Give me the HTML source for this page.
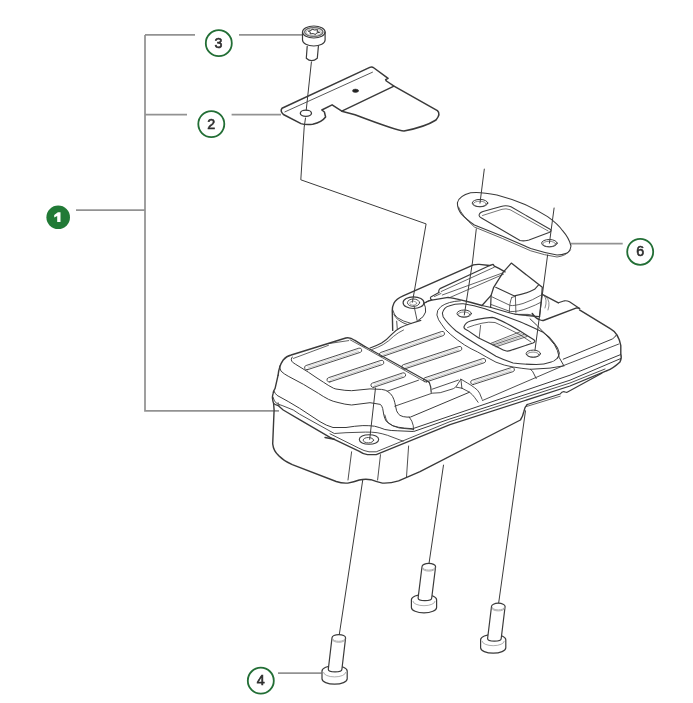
<!DOCTYPE html>
<html><head><meta charset="utf-8">
<style>
html,body{margin:0;padding:0;background:#fff;}
body{width:693px;height:703px;overflow:hidden;}
svg{display:block;}
text{font-family:"Liberation Sans",sans-serif;-webkit-font-smoothing:antialiased;}
#callouts{will-change:transform;}
</style></head>
<body>
<svg width="693" height="703" viewBox="0 0 693 703">
<g id="leaders" fill="none" stroke="#929292" stroke-width="1.75">
<path d="M145 34.9H195M145 34.9V410.8H279M145 114.7H187M231.6 114.7H281M76 210.1H145M239 34.9H302.5"/>
<path d="M571 243.5H622.7M278 673.2H321.5"/>
</g>
<g id="callouts">
<circle cx="58.2" cy="217.3" r="11.8" fill="#217a36"/>
<path fill="#fff" d="M54.2 214.9L57.9 212.3H60.5V222H57.2V216L54.2 217.6Z"/>
<g fill="none" stroke="#226e35" stroke-width="1.8">
<circle cx="218.8" cy="43.2" r="13"/>
<circle cx="211.3" cy="124.1" r="13"/>
<circle cx="640.2" cy="251.8" r="13"/>
<circle cx="260.8" cy="680.7" r="13"/>
</g>
<g fill="#2e2e2e" font-size="14.3" text-anchor="middle" stroke="#2e2e2e" stroke-width="0.6">
<text x="218.6" y="47.9">3</text>
<text x="211.3" y="128.8">2</text>
<text x="640.2" y="255.8">6</text>
<text x="260.8" y="685.4">4</text>
</g>
</g>
<g id="drawing" fill="none" stroke="#3a3a3a" stroke-width="1.2" stroke-linejoin="round" stroke-linecap="round">
<!-- screw 3 -->
<g id="screw3">
<ellipse cx="313.8" cy="32" rx="11.3" ry="6"/>
<path d="M302.5 32V40A11.3 6 0 0 0 325.1 40V32"/>
<ellipse cx="313.8" cy="32" rx="9.2" ry="4.4" stroke="#666" stroke-width="1.3"/><ellipse cx="313.8" cy="32.3" rx="7.6" ry="3.4" stroke="#aaa" stroke-width="0.8"/>
<path d="M319.3 32.4L316.5 33.0L315.6 34.5L313.1 33.6L310.1 33.9L310.4 32.4L308.3 31.2L311.1 30.6L312.0 29.1L314.5 30.0L317.5 29.7L317.2 31.2Z" stroke-width="1" stroke="#333" fill="#fff"/>
<path d="M307.2 46.3L306.3 58.2Q311.6 63 317.3 58.2L318.4 46.3"/>
</g>
<g id="centerlines" stroke-width="1">
<path d="M311.4 62L306.2 110.3M305.5 118L304.2 127.1L300.8 179.8L426.1 223.9L412.4 302.2"/>
<path d="M484.3 169.1L480 203.1M476.3 228.8L472.5 262L464.3 315"/>
<path d="M554.1 208L549.4 243.2M547.6 255L535 350"/>
<path d="M375.5 388L369.7 439.3M362.8 479.7L339.3 634.5"/>
<path d="M443.5 465.1L429 563.5M525.5 410.8L498.6 603.5"/>
</g>
<!-- bracket 2 -->
<g id="bracket">
<path stroke-width="1.5" d="M282 108.2L369.8 67.4Q372 66.5 374 68L388.1 78.4L385.6 79.7L386.4 81L394 86.2L437.4 110.6Q441 114 436 120Q425 127 404 131Q398 131 355 114.7L341.8 111.2L332.1 104.8L321.8 110L324.4 112L325.6 117Q322 122 312.7 124.3Q305 125 301 123.6L283.4 114.5Q279.8 111 282 108.2Z"/>
<path stroke-width="0.9" stroke="#444" d="M284.9 111.9L372.5 72.2"/>
<path stroke-width="1.4" d="M341.8 111.2L394 86.2"/>
<ellipse cx="305.9" cy="113.2" rx="5.6" ry="3.1" stroke-width="1.3"/>
<ellipse cx="355.5" cy="90.8" rx="3" ry="1.7" fill="#222" stroke-width="0.6"/>
</g>
<!-- gasket 6 -->
<g id="gasket">
<path stroke-width="1.1" d="M457.5 202.5Q459 196 470.6 192.8Q480 191.5 496.9 195Q512 199 525 204.4Q537 210 547.6 216.6Q558 224 562.6 230.7Q569 238 571 246Q570 252 566.3 253.2Q562 255 557 255Q545 253 530.7 248.5L502.5 236.3L474.4 225Q466 219 461.3 213.8Q457 208 457.5 202.5Z"/>
<path stroke-width="0.8" d="M458.5 207Q462 216 474.4 227L502.5 238.5L530.7 250.8Q545 255.4 557 257Q566 256 570.5 250"/>
<ellipse cx="480" cy="203.1" rx="7.8" ry="3.7" stroke-width="1"/><ellipse cx="479.8" cy="203.9" rx="6.4" ry="2.7" stroke-width="0.6"/>
<ellipse cx="549.4" cy="243.2" rx="7.8" ry="3.7" stroke-width="1"/><ellipse cx="549.2" cy="244" rx="6.4" ry="2.7" stroke-width="0.6"/>
<path stroke-width="1.05" d="M479.1 215.4Q479 213 483 211.5L501 206.5Q506 205 511 206.8L550.5 229.5Q552 231 549 232.5L529 240Q524 241.5 520 240.5L481.5 218Q479 216.5 479.1 215.4Z"/>
<path stroke-width="0.7" d="M482.5 215.5L502 209.3Q506 208.2 510 209.7L548.2 231"/>
</g>

<!-- muffler -->
<g id="muffler">
<!-- bottom screws -->
<g><path fill="#fff" stroke-width="1.2" d="M322.0 671.0V678.8A12.6 5.4 0 0 0 347.2 678.8V671.0A12.6 5.4 0 0 0 322.0 671.0Z"/><path stroke="#888" stroke-width="0.7" d="M323.5 672.5A11.1 4.4 0 0 0 345.7 672.5"/><path fill="#fff" stroke-width="1.2" d="M332.0 637.9L328.3 669.3A6.8 2.6 0 0 0 341.9 669.3L345.6 637.9A6.8 3.3 0 0 0 332.0 637.9Z"/><path stroke="#999" stroke-width="0.8" d="M332.6 638.9A6.2 2.4 0 0 0 345.0 638.9M332.5 639.9A6.3 2.4 0 0 0 345.1 639.9"/></g><g><path fill="#fff" stroke-width="1.2" d="M411.4 599.8V607.4A12.6 5.4 0 0 0 436.6 607.4V599.8A12.6 5.4 0 0 0 411.4 599.8Z"/><path stroke="#888" stroke-width="0.7" d="M412.9 601.3A11.1 4.4 0 0 0 435.1 601.3"/><path fill="#fff" stroke-width="1.2" d="M422.0 566.7L418.1 598.0A6.8 2.6 0 0 0 431.7 598.0L435.6 566.7A6.8 3.3 0 0 0 422.0 566.7Z"/><path stroke="#999" stroke-width="0.8" d="M422.6 567.7A6.2 2.4 0 0 0 435.0 567.7M422.5 568.7A6.3 2.4 0 0 0 435.1 568.7"/></g><g><path fill="#fff" stroke-width="1.2" d="M480.6 639.8V647.8A12.6 5.4 0 0 0 505.8 647.8V639.8A12.6 5.4 0 0 0 480.6 639.8Z"/><path stroke="#888" stroke-width="0.7" d="M482.1 641.3A11.1 4.4 0 0 0 504.3 641.3"/><path fill="#fff" stroke-width="1.2" d="M491.5 606.5L487.6 638.5A6.8 2.6 0 0 0 501.2 638.5L505.1 606.5A6.8 3.3 0 0 0 491.5 606.5Z"/><path stroke="#999" stroke-width="0.8" d="M492.1 607.5A6.2 2.4 0 0 0 504.5 607.5M492.0 608.5A6.3 2.4 0 0 0 504.6 608.5"/></g>
<!-- ===== silhouette ===== -->
<path stroke-width="1.4" d="M278.1 375.2L275.1 388.3Q273.3 391 273.1 393.4Q272.2 397 272.5 398.4Q272.8 401.5 273.6 403.5L274.1 410L272.7 443.9Q273.5 451 278.5 455.4Q284 461 292.3 464.7L336.2 481.5Q342 483.5 347.8 483.1Q354 482 359.3 480Q365 478.8 370.9 479.7Q377 482 382.4 483.1Q390 483.5 398.6 480.8L420 471.6L520.4 420Q523 416 523.9 411.4Q524.5 407 527.3 404.5"/>
<path stroke-width="1.2" d="M527.3 404.5L560.2 394Q562 391.3 564.5 391.8Q566.5 392.5 567.1 392.3L601.8 373.3"/>
<path stroke-width="0.8" d="M526.5 406.5L560.2 396.2"/>
<path stroke-width="1.4" d="M579.5 309.9L610.2 328.6Q618.5 333 620.8 345.6V354.2Q622 357.5 620 362Q613 368.5 607 370.7"/>
<path stroke-width="1.4" d="M278.1 375.2Q279 366 283.2 360Q286.5 356 291.2 355L345.8 338Q350 337 354.5 340.2L365 346.6"/>
<path stroke-width="1.4" d="M392.7 330.4L392.3 312Q392 307 394 303Q396 299 403.1 295.8L473.5 264.9Q476.5 264.2 479.3 264.4L489.7 265.5L493.1 264.4L494.3 266.1L498.9 268.4L505 271.9"/>

<!-- ===== front cover ===== -->
<path stroke-width="0.8" d="M293.4 358.4L328.5 345.3M328.5 343.6L348.7 340.6"/>
<path stroke-width="1.2" d="M365 346.6L423.5 379.1Q427.5 380.5 429.3 382.5Q431 386 431.2 392.3"/>
<path stroke-width="0.8" d="M350.1 339.8L368.7 350L424.5 381.6"/>
<!-- top surface front boundary -->
<path stroke-width="1" d="M292.2 357Q290.5 359.5 291.7 361.1Q293 363 295.3 364.1L308.4 372.2Q316 377.5 323.6 382.3Q329 386 333.7 388.3Q336 389.2 338 389.3Q345 390.6 351.6 390.7L370 388.9L381.5 389.4Q386 390 387.3 391.2Q391 393.5 392.5 396.4Q394.3 400 394.8 402.7L396.6 410.8Q398 414 400 415.4Q403 417 407 417.1L410.4 417.1L469.5 392.2"/>
<path stroke-width="0.9" d="M387.3 391.2L418.5 380.2"/>
<path stroke-width="0.9" d="M394.8 406.2L432.1 393.2L440.2 392.7L453.3 388.7Q455 387.8 456.4 386.2"/>
<path stroke-width="0.9" d="M432.1 389.2L458.4 380.1"/>
<!-- front face bottom boundary -> LB -->
<path stroke-width="1" d="M279.6 366.1Q280 369.5 281.1 371.2Q284 374 288.2 376.2L303.4 384.3L318.5 393.4Q323 396.5 328.6 399.4Q333 401.5 338 402.5Q345 404.5 351.6 405L370 402.7L380.4 404.4Q382 406 382.7 408.5L383.9 415.4Q384.8 419 386.2 421.2Q389 424 393.1 425.8Q398 427.5 404.6 428.1L412.7 428.7L570 375.2L620.8 354.5"/>
<path stroke-width="0.9" d="M409.3 417.1Q412.5 421 413.3 425.8L413.3 430"/>
<!-- LA from wedge base -->
<path stroke-width="0.9" d="M482.5 400.5L564 365.4L618.6 344.1"/>
<!-- lip lines -->
<path stroke-width="1" d="M274.1 391.4Q275 393.5 277.1 395.4L288.2 401.5L299.6 408.3L320 421.7Q326 425.5 333 427.5L346 427.5Q355 426 362.9 425.6Q369 425.5 374.5 426.2Q380 427.5 384.9 429.5Q391 430.8 397.9 430.8L413.7 431.5L450 418.9L570 380.2L620.8 358.5"/>
<path stroke-width="0.9" d="M273.1 397.4Q274 400.5 275.6 402.5Q278 404.5 282.1 405.5L293.3 410L299.6 414.2L334.3 433.5L346 432.7L365.5 432.1Q372 432 377.1 432.7Q382 433.5 387.5 435.3L403.1 441.2"/>
<path stroke-width="1.3" d="M273.6 403.5Q275.5 405 278.1 405.5L283.2 410L299.6 419.6L330 437.4L358.9 451.1Q363 454 367.5 454.7L376.2 454.7L450 424.7L570 386L607 370.7"/>
<path stroke-width="0.9" d="M330 433.8L358.9 448.2Q364 451 369 451.8L376.2 451.8L450 421.6L570 383L605 369"/>
<path stroke-width="0.7" d="M278.1 402.5L279.2 405.5"/>
<path stroke-width="1.4" d="M325 437.5L334.3 439.3"/>
<ellipse cx="369" cy="439.5" rx="9.7" ry="4.8" stroke-width="1.1"/>
<ellipse cx="368.4" cy="440.2" rx="5.2" ry="2.7" stroke-width="0.9"/>
<path stroke-width="0.9" d="M351.6 451.8L348 480M380.5 454.7L377.6 480M408.6 446L406.5 477"/>
<path stroke-width="0.9" d="M384.8 415Q386 420 387.7 422.2Q392 426.5 399.3 428L413.7 429.4"/>

<!-- ribs -->
<g><path stroke-width="0.9" d="M307.5 369.7L360.2 352.4A2.2 2.2 0 0 0 358.8 348.2L306.1 365.5A2.2 2.2 0 0 0 307.5 369.7Z"/><path stroke="#9a9a9a" stroke-width="0.6" d="M308.2 368.1L358.6 351.5"/><path stroke="#b5b5b5" stroke-width="0.5" d="M307.7 366.4L358.1 349.8"/><path stroke-width="0.9" d="M329.9 381.9L382.3 364.6A2.2 2.2 0 0 0 380.9 360.4L328.5 377.7A2.2 2.2 0 0 0 329.9 381.9Z"/><path stroke="#9a9a9a" stroke-width="0.6" d="M330.6 380.3L380.7 363.7"/><path stroke="#b5b5b5" stroke-width="0.5" d="M330.1 378.6L380.2 362.0"/><path stroke-width="0.9" d="M373.8 387.3L404.1 377.1A2.2 2.2 0 0 0 402.7 372.9L372.4 383.1A2.2 2.2 0 0 0 373.8 387.3Z"/><path stroke="#9a9a9a" stroke-width="0.6" d="M374.5 385.7L402.5 376.2"/><path stroke="#b5b5b5" stroke-width="0.5" d="M374.0 384.0L402.0 374.5"/><path stroke-width="0.9" d="M382.3 356.6L443.0 335.7A2.2 2.2 0 0 0 441.6 331.5L380.9 352.4A2.2 2.2 0 0 0 382.3 356.6Z"/><path stroke="#9a9a9a" stroke-width="0.6" d="M383.0 355.0L441.5 334.8"/><path stroke="#b5b5b5" stroke-width="0.5" d="M382.4 353.3L440.9 333.1"/><path stroke-width="0.9" d="M404.7 368.9L460.3 350.7A2.2 2.2 0 0 0 458.9 346.5L403.3 364.7A2.2 2.2 0 0 0 404.7 368.9Z"/><path stroke="#9a9a9a" stroke-width="0.6" d="M405.4 367.3L458.7 349.8"/><path stroke="#b5b5b5" stroke-width="0.5" d="M404.9 365.6L458.2 348.1"/><path stroke-width="0.9" d="M426.4 381.9L484.1 362.8A2.2 2.2 0 0 0 482.7 358.6L425.0 377.7A2.2 2.2 0 0 0 426.4 381.9Z"/><path stroke="#9a9a9a" stroke-width="0.6" d="M427.1 380.3L482.5 361.9"/><path stroke="#b5b5b5" stroke-width="0.5" d="M426.6 378.6L482.0 360.2"/><path stroke-width="0.9" d="M473.6 384.4L512.9 371.7A2.2 2.2 0 0 0 511.5 367.5L472.2 380.2A2.2 2.2 0 0 0 473.6 384.4Z"/><path stroke="#9a9a9a" stroke-width="0.6" d="M474.3 382.8L511.3 370.8"/><path stroke="#b5b5b5" stroke-width="0.5" d="M473.8 381.1L510.8 369.1"/></g>
<!-- ===== middle section ===== -->
<path stroke-width="1.2" d="M370.1 348Q376 346 381.6 343Q387 339.5 391.7 334.3Q396 330 400.6 327.5Q405 325.5 409.3 324L420.8 320.4"/>
<path stroke-width="0.8" d="M371.7 349.6Q378 347.5 383.3 344.5Q389 341 393.4 336.5Q398 332.5 403.5 330"/>
<!-- left boss pad -->
<path stroke-width="0.9" d="M392.5 309.5Q394 315 397.3 317.7Q403 321.5 411.2 323.5M393.9 314.3Q395.5 318 398.5 320Q402.5 323 407.7 324.7M396.7 321.2L397.3 329.3"/><path stroke-width="0.9" d="M413.9 305.5L417.2 320.8"/>
<ellipse cx="413.5" cy="302.7" rx="10.4" ry="5.8" stroke-width="1.2"/>
<ellipse cx="413.5" cy="302.7" rx="6.1" ry="3.7" stroke-width="0.9"/>
<ellipse cx="413.2" cy="303.2" rx="3.5" ry="2" stroke-width="0.6" stroke="#666"/>
<path stroke-width="1" d="M423.9 303Q426 307 425.6 312Q424.5 317 418.1 320.5"/>
<path stroke-width="1" d="M424.5 303L430.8 299.8"/>
<!-- raised ridge strip -->
<path stroke-width="1.2" d="M438.9 292.6Q438.3 290 440 288.6L489.7 265.5"/>
<path stroke-width="1.1" d="M431.9 299.8Q429.6 298.6 430.8 297L438.9 292.6"/>
<path stroke-width="0.8" d="M434.5 296.5L441 293.5M441.2 291.5L494.3 267.2M442.3 295L502.4 273M449.2 297.8L503.5 274.2"/>
<!-- rear lower edge -->
<path stroke-width="1.3" d="M424.5 303Q428 300.5 431.9 300.1L448.1 297.3Q454 298 459.6 299.6L471.2 302.5L482 305.5"/>
<!-- ===== wedge ===== -->
<path stroke-width="1.3" d="M482 305.5L491.1 295.4L493.7 287.3L503.3 272.1L511.3 263.1L542.3 287.2L541.8 294.2L558.4 302.8"/>
<path stroke-width="1.2" d="M491.1 295.4L490.6 307.5M541.8 294.2L539.6 316.6"/>
<path stroke-width="1.1" d="M495.7 287.3L514.4 295.9Q526 294 534.6 289.3L538.6 284.8"/>
<path stroke-width="0.8" d="M492.1 296.9L510.3 305.5Q514 306 523 303.5Q533 300 540.6 295.4M491.1 304.5L510.3 311.5Q518 312 528 308Q536 305 540.6 302.4"/>
<path stroke-width="0.8" d="M511.8 297.4Q509.5 302 509.3 312.5M515.4 296.4L515.9 312.5M511.8 297.4L515.4 296.4"/>
<path stroke-width="1.1" d="M482 305.5L491.1 307.5L508.3 312.5Q513 314 518.4 314.6Q530 316 539.6 316.6"/>
<path stroke-width="0.7" stroke="#555" d="M543.5 295Q548 299 545 308M546 297Q551 301 548 310"/>
<!-- right plate -->
<path stroke-width="1.2" d="M558.4 302.8L564.5 300.8Q567 300.5 569.5 301.8L579.6 308.4"/>
<path stroke-width="1.4" d="M532.2 313.4Q535 318 539.2 319.5Q541.5 320.8 543.3 320.5L576.6 307.9L579.6 308.4"/>
<path stroke-width="0.9" d="M515 314.4L528.1 314.4L533.2 315.5"/>
<!-- ===== flange ===== -->
<path stroke-width="0.95" d="M460.4 300.8Q448 301.5 441 306.5Q436.5 310 436.9 315Q438 320 441.5 324.2Q445 330 450.8 334.6Q457 340 464.6 345Q471 349 477.7 352Q487 357.5 496 362.2Q504 365.5 513.1 367Q522 368.5 530.4 369.3Q533 371 533.9 373.9L536.2 378.5"/>
<path stroke-width="1" d="M530 318.8Q538 326 544.4 333.2Q550 339 554.5 344.7Q558 350 559.3 357.7L563.9 365.8M530.4 369.3L550 368.1L563.9 365.8"/>
<path stroke-width="1.05" d="M442.4 313.1Q444 307 448.9 305.9Q455 303.5 463.3 303.7Q474 305 484.9 308.8L520 321.7Q532 327 543.1 332.3Q550 337 554.7 343.9Q558.5 348.5 559.3 353.1Q558.5 357.5 557 358.5Q554 361.5 551.2 362Q544 364.5 536.2 364.6Q525 364.5 513.1 362.9Q504 360 496 356.2L477.7 345Q466 338 456.1 331Q447 323 443.1 316.7Z"/>
<ellipse cx="464.2" cy="313.6" rx="7.2" ry="3.6" stroke-width="1"/><ellipse cx="464" cy="314.5" rx="5.8" ry="2.5" stroke-width="0.6"/>
<ellipse cx="533.3" cy="353.7" rx="7.2" ry="3.6" stroke-width="1"/><ellipse cx="533.1" cy="354.6" rx="5.8" ry="2.5" stroke-width="0.6"/>
<!-- window -->
<path stroke-width="1.15" d="M464 326.8Q465.5 322.5 470.5 321Q477 319 484.9 318.1L492.2 317.4Q500 319 520 331.1L533.5 339.5Q536.5 341.5 533 343L513.1 349.6Q509 351.5 506.4 351Q503 350 500.3 348.4L478.7 338L467.6 330.4Q463.5 328.5 464 326.8Z"/>
<path stroke-width="0.8" d="M467.6 327.5Q474 325 482 323.2Q489 321.5 495 322.5Q505 327 520 334.7L531 342"/>
<path stroke-width="0.8" d="M480.6 325.4L479.2 337.6M490.7 343.4L520 331.8M493 345L524 334.5M496 346.8L527 336.5"/>
<path stroke-width="0.5" stroke="#777" d="M491.8 344.2L522 333.2M494.5 345.9L525.5 335.5"/>
<!-- right end surface lines -->
<path stroke-width="1" d="M563.2 359.2L612.3 339Q615 337.5 616.6 334.6"/>

<!-- wedge feature on middle section -->
<path stroke-width="0.9" d="M456.4 386.2L460.9 379.1L461.9 388.2M456.4 387.2L461.9 388.2M460.9 379.1L467.5 383.1Q471 385 474.5 387.7Q478 390 479.6 393.2L482.1 399.3M461.9 388.2L469.5 392.2Q472.5 394.5 474.5 397.3L478.1 402.3"/>
</g>

</g>
</svg>
</body></html>
